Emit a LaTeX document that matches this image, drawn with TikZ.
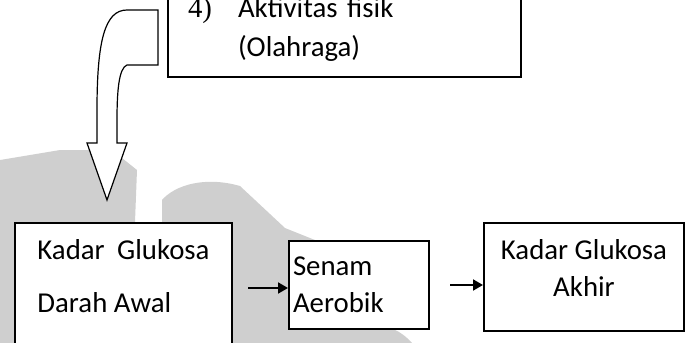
\documentclass[tikz,border=0pt]{standalone}
\usepackage{fontspec}
\setmainfont{Carlito}
\newfontfamily\numfont{Liberation Serif}
\usepackage{tikz}
\usetikzlibrary{arrows.meta,calc}
\newcommand{\glufont}{\fontsize{14.4}{18.5}\selectfont}
\newcommand{\glulift}[1]{\rule[-#1]{0pt}{0pt}}
\tikzset{
  glubox/.style   = {rectangle, draw=black, line width=1pt, fill=white,
                     font=\glufont, inner sep=0pt},
  gluflow/.style  = {-{Triangle[length=5pt,width=5.5pt]}, draw=black, line width=1pt},
  glubend/.style  = {draw=black, fill=white, line width=0.6pt},
  gluwater/.style = {fill=black!19, draw=none},
}

\begin{document}
\begin{tikzpicture}[x=0.5pt,y=-0.5pt]
  \useasboundingbox (0,0) rectangle (687,343);

  % faint watermark behind the chart
  \fill[gluwater] (0,160) -- (60,150) -- (112,150) -- (137,170) -- (135,222)
        -- (14,222) -- (14,343) -- (0,343) -- cycle;
  \fill[gluwater] (162,200) .. controls (175,185) and (205,176) .. (240,186)
        -- (285,228) -- (340,250) -- (332,343) -- (231,343) -- (231,222)
        -- (162,222) -- cycle;
  \fill[gluwater] (330,330) .. controls (355,320) and (390,318) .. (412,343)
        -- (330,343) -- cycle;

  \node[glubox, anchor=south west, text width=156.5pt, inner xsep=10pt, inner ysep=8pt,
        align=left, font=\fontsize{14.4}{19.5}\selectfont] (olahraga) at (167,78)
        {\makebox[25pt][l]{\numfont 4)}Aktivitas fisik\\\hspace*{25pt}(Olahraga)};
  \node[glubox, anchor=north west, minimum width=108.5pt, minimum height=61pt,
        align=left, font=\fontsize{14.4}{26.5}\selectfont] (awal) at (14,222)
        {Kadar\hspace{3pt} Glukosa\\Darah Awal\glulift{8pt}};
  \node[glubox, anchor=north west, minimum width=70pt, minimum height=44pt,
        text width=66pt, inner xsep=2pt, align=left] (senam) at (288,240)
        {Senam\\Aerobik};
  \node[glubox, anchor=north west, minimum width=100pt, minimum height=54pt,
        align=center] (akhir) at (483,222) {Kadar Glukosa\\Akhir\glulift{9pt}};

  % bent block arrow from the activity box down to the first box
  \draw[glubend] (97,143) -- (97,110) .. controls (97,40) and (105,10) .. (127,10)
        -- (158,10) -- (158,65) -- (127,65) .. controls (119,68) and (117,90) .. (117,120)
        -- (117,143) -- (127,143) -- (107,200) -- (87,143) -- cycle;

  \draw[gluflow] ([xshift=-20pt,yshift=-1.5pt]senam.west) -- ([yshift=-1.5pt]senam.west);
  \draw[gluflow] ([xshift=10pt]senam.east) -- (senam.east -| akhir.west);
\end{tikzpicture}
\end{document}
